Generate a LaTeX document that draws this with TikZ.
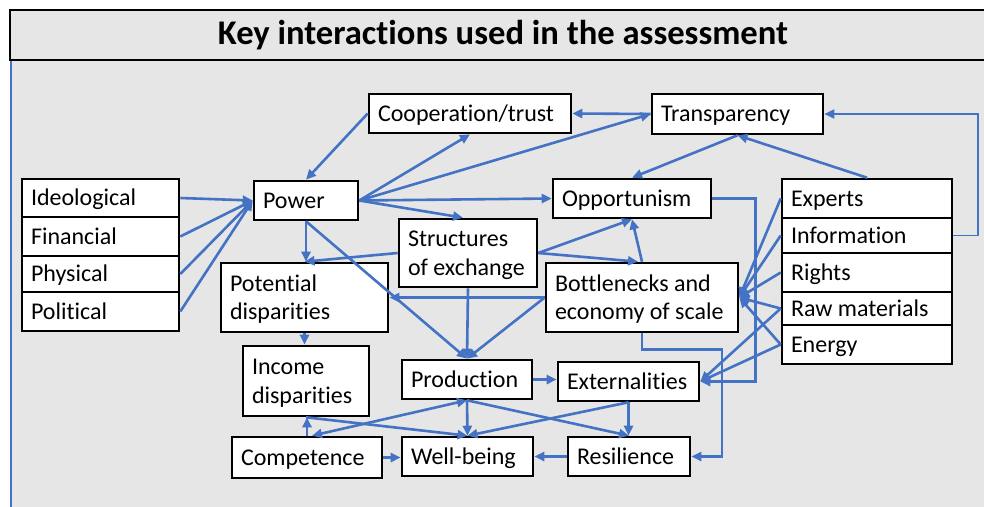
\documentclass[tikz,border=0pt]{standalone}
\usepackage{fontspec}
\setmainfont{Carlito}[Ligatures=NoCommon]
\usetikzlibrary{arrows.meta,calc}
\definecolor{linkblue}{HTML}{4472C4}
\definecolor{panelgray}{HTML}{E6E6E6}
% fixed line height/depth so every label sits on the same baseline offset
\newcommand\mystrut{\rule[-5pt]{0pt}{25.5pt}}
% \bx{name}{x1}{y1}{x2}{y2}{text}: white box with left-aligned label
\newcommand\bx[6]{%
  \pgfmathsetmacro\boxW{#4-#2}%
  \pgfmathsetmacro\boxH{#5-#3}%
  \pgfmathsetmacro\boxT{#4-#2-18}%
  \node[box, minimum width=\boxW pt, minimum height=\boxH pt, text width=\boxT pt]
    (#1) at ({(#2+#4)/2},{(#3+#5)/2}) {\mystrut #6};}
\tikzset{
  box/.style={draw=black, fill=white, line width=2.6pt, inner xsep=9pt, inner ysep=0pt,
    align=flush left, font=\fontsize{24}{28.5}\selectfont},
  link/.style={draw=linkblue, line width=2.6pt, -{Triangle[length=10pt,width=9pt]}},
  biglink/.style={link, {Triangle[length=10pt,width=9pt]}-{Triangle[length=10pt,width=9pt]}},
  titletext/.style={font=\fontsize{34.6}{40}\selectfont\bfseries, inner sep=0pt}
}
\begin{document}
\begin{tikzpicture}[x=1pt,y=-1pt]
\clip (0,0) rectangle (984,506);
\fill[white] (0,0) rectangle (984,506);
% panel and heading bar
\fill[panelgray] (10,10) rectangle (1000,520);
\draw[line width=2.5pt] (10,10) rectangle (1000,60);
\draw[linkblue, line width=2.5pt] (11,61) -- (11,520);
\node[titletext, anchor=base] (title) at (503,44.5) {Key interactions used in the assessment};

% left stack
\bx{ideo}{22}{179}{179}{217}{Ideological}
\bx{fin}{22}{217}{179}{256}{Financial}
\bx{phys}{22}{256}{179}{292}{Physical}
\bx{pol}{22}{292}{179}{331}{Political}
% middle boxes
\bx{power}{254}{181}{358}{220}{Power}
\bx{coop}{369}{94}{571}{133}{Cooperation/trust}
\bx{transp}{652}{94}{823}{134}{Transparency}
\bx{opp}{553}{179}{711}{218}{Opportunism}
\bx{struct}{399}{219}{537}{287}{Structures\\\mystrut of exchange}
\bx{bott}{546}{263}{738}{332}{Bottlenecks and\\\mystrut economy of scale}
\bx{pot}{221}{263}{388}{332}{Potential\\\mystrut disparities}
\bx{inc}{243}{346}{369}{416}{Income\\\mystrut disparities}
\bx{prod}{402}{360}{532}{399}{Production}
\bx{ext}{558}{362}{699}{401}{Externalities}
\bx{comp}{232}{437}{382}{478}{Competence}
\bx{wb}{402}{437}{533}{476}{Well-being}
\bx{res}{568}{437}{690}{476}{Resilience}
% right stack
\bx{exp}{782}{179}{952}{218}{Experts}
\bx{info}{782}{218}{952}{253}{Information}
\bx{rights}{782}{253}{952}{292}{Rights}
\bx{raw}{782}{292}{952}{325}{Raw materials}
\bx{energy}{782}{325}{952}{364}{Energy}

% sources of power
\foreach \s in {ideo,fin,phys,pol} \draw[link] (\s.east) -- (power.west);
% power and trust
\draw[link] (coop.west) -- (power.north);
\draw[link] (power.east) -- (coop.south);
\draw[link] (power.east) -- (transp.west);
\draw[link] (transp.west) -- (coop.east);
\draw[link] (power.east) -- (opp.west);
\draw[link] (power.east) -- ([xshift=-5pt]struct.north);
\draw[link] (power.south) -- (power.south |- pot.north);
\draw[link] (power.south) -- (prod.north);
% exchange structures and bottlenecks
\draw[link] (struct.west) -- (pot.north);
\draw[link] (struct.south) -- (prod.north);
\draw[link] (bott.west) -- (pot.east);
\draw[link] (bott.west) -- (prod.north);
\draw[link] (struct.east) -- (opp.south);
\draw[link] (struct.east) -- ([xshift=-4pt]bott.north);
\draw[link] (bott.north) -- (opp.south);
\draw[link] (transp.south) -- (opp.north);
\draw[link] (exp.north) -- (transp.south);
\draw[link, line width=1.8pt] (info.east) -- ++(25,0) |- (transp.east);
\draw[link] (opp.east) -- ++(43,0) |- (ext.east);
\draw[link] (bott.south) -- ++(0,16) -- ++(80,0) |- (res.east);
% resources
\foreach \s in {exp,info,rights,raw,energy} \draw[link] (\s.west) -- (bott.east);
\draw[link] (raw.west) -- (ext.east);
\draw[link] (energy.west) -- (ext.east);
% outcomes
\draw[link] (pot.south) -- (pot.south |- inc.north);
\draw[link] (prod.east) -- (prod.east -| ext.west);
\draw[link] (prod.south) -- (wb.north);
\draw[link] (prod.south) -- (res.north);
\draw[biglink] ([xshift=5pt]comp.north) -- (prod.south);
\draw[link] (ext.south) -- (wb.north);
\draw[link] (ext.south) -- (ext.south |- res.north);
\draw[link] (inc.south) -- (wb.north);
\draw[link] (comp.north) -- (comp.north |- inc.south);
\draw[link] (comp.east) -- (comp.east -| wb.west);
\draw[link] (res.west) -- (wb.east);
\end{tikzpicture}
\end{document}
